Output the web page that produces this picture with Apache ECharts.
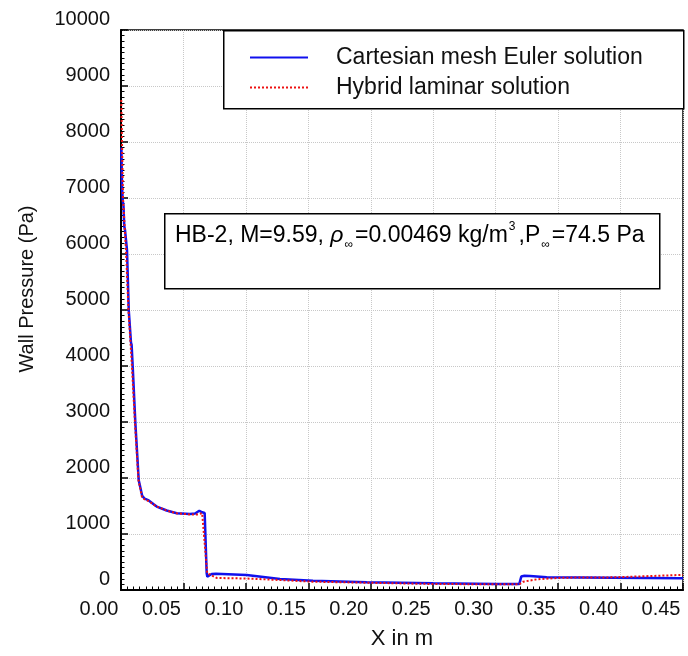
<!DOCTYPE html>
<html>
<head>
<meta charset="utf-8">
<script src="https://cdn.jsdelivr.net/npm/echarts@6/dist/echarts.min.js"></script>
<style>
html,body{margin:0;padding:0;background:#fff;}
#chart{width:688px;height:656px;}
</style>
</head>
<body>
<div id="chart"></div>
<script>
// ---- data (x in m, wall pressure in Pa) ----
const eulerX = [0.0003, 0.0008, 0.0014, 0.0020, 0.0026, 0.0032, 0.0040, 0.0048, 0.0062, 0.0080, 0.0085, 0.0094, 0.0115, 0.0142, 0.0170, 0.0190, 0.0206, 0.0222, 0.0259, 0.0286, 0.0366, 0.0446, 0.0553, 0.0593, 0.0627, 0.0650, 0.0670, 0.0686, 0.0691, 0.0726, 0.0760, 0.1006, 0.1273, 0.1537, 0.1967, 0.2498, 0.3008, 0.3189, 0.3205, 0.3230, 0.3275, 0.3409, 0.3940, 0.4476, 0.4500];
const eulerP = [7900, 7200, 6950, 6850, 6500, 6430, 6400, 6070, 5000, 4420, 4380, 3980, 2980, 1960, 1680, 1630, 1595, 1600, 1535, 1490, 1420, 1370, 1357, 1365, 1415, 1387, 1375, 300, 238, 286, 290, 268, 196, 166, 137, 119, 107, 105, 240, 255, 250, 226, 220, 208, 208];

const hybridX = [0.0002, 0.0008, 0.0016, 0.0040, 0.0060, 0.0088, 0.0112, 0.0140, 0.0168, 0.0200, 0.0222, 0.0259, 0.0286, 0.0366, 0.0446, 0.0553, 0.0610, 0.0650, 0.0662, 0.0690, 0.0699, 0.0766, 0.1006, 0.1273, 0.1537, 0.1967, 0.2498, 0.3008, 0.3189, 0.3221, 0.3328, 0.3541, 0.3940, 0.4476, 0.4500];
const hybridP = [8750, 8000, 7000, 6070, 5000, 3980, 2980, 1960, 1660, 1600, 1590, 1530, 1490, 1420, 1370, 1350, 1350, 1370, 1350, 300, 268, 215, 205, 178, 148, 130, 107, 102, 102, 148, 190, 220, 226, 268, 270];

const seriesNames = ['Cartesian mesh Euler solution', 'Hybrid laminar solution'];
const xTicks = { min: 0, max: 0.45, step: 0.05 };
const yTicks = { min: 0, max: 10000, step: 1000 };

const zip = (xs, ys) => xs.map((x, i) => [x, ys[i]]);
const FONT = "'Liberation Sans', Arial, sans-serif";
const chart = echarts.init(document.getElementById('chart'), null, { renderer: 'canvas' });

const axisCommon = {
  axisLine: { show: true, lineStyle: { color: '#000', width: 2 } },
  axisTick: { show: true, inside: true, length: 7, lineStyle: { color: '#000', width: 1.5 } },
  minorTick: { show: true, splitNumber: 10, length: 3.5, lineStyle: { color: '#000', width: 1 } },
  splitLine: { show: true, lineStyle: { color: '#c8c8c8', type: 'dotted', width: 1 } },
  minorSplitLine: { show: false }
};

chart.setOption({
  backgroundColor: '#fff',
  animation: false,
  grid: { left: 121, top: 30, right: 5, bottom: 66, show: true, borderColor: '#000', borderWidth: 1.5, containLabel: false },
  xAxis: Object.assign({
    type: 'value',
    min: xTicks.min, max: xTicks.max, interval: xTicks.step,
    name: 'X in m', nameLocation: 'middle', nameGap: 38,
    nameTextStyle: { fontFamily: FONT, fontSize: 22, color: '#111' },
    axisLabel: {
      fontFamily: FONT, fontSize: 20, color: '#111', margin: 9,
      padding: [0, 44, 0, 0], showMaxLabel: true, showMinLabel: true,
      formatter: v => v.toFixed(2)
    }
  }, axisCommon),
  yAxis: Object.assign({
    type: 'value',
    min: yTicks.min, max: yTicks.max, interval: yTicks.step,
    name: 'Wall Pressure (Pa)', nameLocation: 'middle', nameGap: 84,
    nameTextStyle: { fontFamily: FONT, fontSize: 20, color: '#111', padding: [0, 0, 0, 42] },
    axisLabel: {
      fontFamily: FONT, fontSize: 20, color: '#111', margin: 11,
      verticalAlign: 'bottom', padding: [0, 0, 1, 0],
      formatter: v => String(v)
    }
  }, axisCommon),
  legend: {
    orient: 'vertical', left: 249, top: 46, padding: 0, itemGap: 7,
    itemWidth: 58, itemHeight: 14, z: 10,
    itemStyle: { opacity: 0 },
    textStyle: { fontFamily: FONT, fontSize: 23, color: '#111', padding: [0, 0, 0, 23] },
    data: seriesNames
  },
  graphic: [
    { type: 'rect', left: 223, top: 30, z: 8, shape: { width: 460, height: 78 }, style: { fill: '#fff', stroke: '#000', lineWidth: 1.5 } },
    { type: 'rect', left: 164, top: 213, z: 8, shape: { width: 495, height: 75 }, style: { fill: '#fff', stroke: '#000', lineWidth: 1.5 } },
    {
      type: 'text', left: 175, top: 221, z: 9,
      style: {
        text: '{n|HB-2, M=9.59, }{g|ρ}{sub|∞}{n|=0.00469 kg/m}{sup|3}{n|,P}{sub|∞}{n|=74.5 Pa}',
        fontFamily: FONT,
        rich: {
          n: { fontFamily: FONT, fontSize: 23, color: '#111', lineHeight: 30 },
          g: { fontFamily: FONT, fontSize: 23, color: '#111', fontStyle: 'italic', lineHeight: 30 },
          sub: { fontFamily: FONT, fontSize: 12, color: '#111', verticalAlign: 'bottom', lineHeight: 30, padding: [0, 2, 0, 1] },
          sup: { fontFamily: FONT, fontSize: 12, color: '#111', verticalAlign: 'top', lineHeight: 30, padding: [0, 3, 0, 1] }
        }
      }
    }
  ],
  series: [
    {
      name: seriesNames[0], type: 'line', data: zip(eulerX, eulerP),
      showSymbol: false, symbol: 'none', z: 3,
      lineStyle: { color: '#1010ee', width: 2.5, type: 'solid' },
      itemStyle: { color: '#1010ee' }
    },
    {
      name: seriesNames[1], type: 'line', data: zip(hybridX, hybridP),
      showSymbol: false, symbol: 'none', z: 4,
      lineStyle: { color: '#ee1111', width: 2, type: [2, 2] },
      itemStyle: { color: '#ee1111' }
    }
  ]
});
</script>
</body>
</html>
